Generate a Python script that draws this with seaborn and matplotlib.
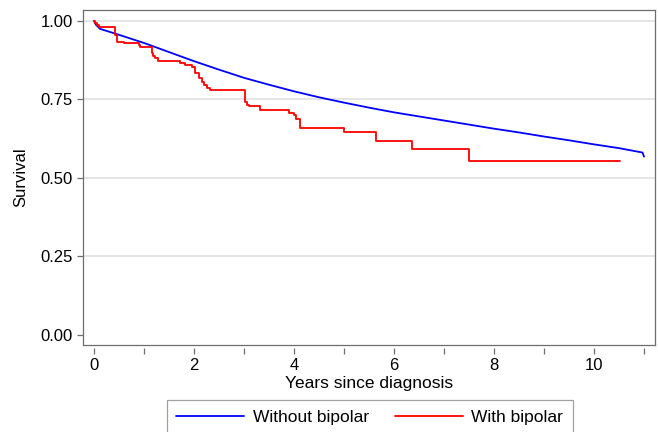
import pandas as pd
import matplotlib.pyplot as plt
import seaborn as sns

# survival curve without bipolar (smooth, many events)
without_years = [0, 0.04, 0.12, 0.5, 1, 1.5, 2, 2.5, 3, 3.5, 4, 4.5, 5, 5.5, 6, 6.5, 7,
                 7.5, 8, 8.5, 9, 9.5, 10, 10.5, 10.97, 11.0]
without_surv = [1.0, 0.988, 0.975, 0.956, 0.930, 0.901, 0.872, 0.845, 0.819, 0.797, 0.776,
                0.757, 0.740, 0.724, 0.709, 0.696, 0.683, 0.670, 0.657, 0.645, 0.632,
                0.620, 0.607, 0.595, 0.581, 0.568]

# Kaplan-Meier steps with bipolar
with_years = [0, 0.02, 0.05, 0.09, 0.41, 0.45, 0.59, 0.89, 0.92, 1.15, 1.18, 1.22, 1.28,
              1.72, 1.82, 1.95, 2.02, 2.09, 2.15, 2.20, 2.25, 2.32, 3.02, 3.05, 3.10,
              3.32, 3.89, 4.00, 4.03, 4.12, 4.99, 5.63, 6.35, 7.49, 10.52]
with_surv = [1.0, 0.995, 0.988, 0.980, 0.955, 0.934, 0.931, 0.925, 0.916, 0.899, 0.887,
             0.881, 0.874, 0.865, 0.860, 0.852, 0.833, 0.817, 0.807, 0.796, 0.786, 0.779,
             0.741, 0.733, 0.729, 0.717, 0.706, 0.699, 0.688, 0.658, 0.645, 0.619, 0.592,
             0.554, 0.554]

y_ticks = [0, 0.25, 0.5, 0.75, 1.0]
y_labels = ["0.00", "0.25", "0.50", "0.75", "1.00"]
x_ticks = list(range(12))
x_labels = [str(t) if t % 2 == 0 else "" for t in x_ticks]

sns.set_style("white")
plt.rcParams['font.family'] = ['Liberation Sans', 'DejaVu Sans']
plt.rcParams['text.color'] = 'black'
plt.rcParams['axes.labelcolor'] = 'black'
plt.rcParams['xtick.labelcolor'] = 'black'
plt.rcParams['ytick.labelcolor'] = 'black'

axis_gray = "#6e6e6e"

fig = plt.figure(figsize=(6.58, 4.32), dpi=100)
ax = fig.add_axes([83 / 658, 1 - 345 / 432, (655 - 83) / 658, (345 - 10) / 432])

for v in y_ticks[1:]:
    ax.axhline(v, color="#dedede", lw=1.1, zorder=0)

df_wo = pd.DataFrame({"years": without_years, "survival": without_surv})
df_w = pd.DataFrame({"years": with_years, "survival": with_surv})
sns.lineplot(data=df_wo, x="years", y="survival", color="#0000ff", lw=1.3,
             estimator=None, sort=False, label="Without bipolar", ax=ax)
sns.lineplot(data=df_w, x="years", y="survival", color="#ff0000", lw=1.3,
             estimator=None, sort=False, drawstyle="steps-post", label="With bipolar", ax=ax)

ax.set_xlim(-0.22, 11.22)
ax.set_ylim(-0.032, 1.035)
ax.set_yticks(y_ticks)
ax.set_yticklabels(y_labels, fontsize=12)
ax.set_ylabel("Survival", fontsize=12, labelpad=9)
ax.set_xlabel("")
ax.tick_params(axis="y", direction="out", length=4.3, width=0.9, color=axis_gray, pad=3, left=True)
ax.tick_params(axis="x", bottom=False, labelbottom=False)
for sp in ax.spines.values():
    sp.set_visible(True)
    sp.set_color(axis_gray)
    sp.set_linewidth(0.9)

# x axis drawn slightly below the plot box, Stata style
sec = ax.secondary_xaxis(-0.008)
sec.set_xticks(x_ticks)
sec.set_xticklabels(x_labels, fontsize=12)
sec.tick_params(direction="out", length=4.3, width=0.9, color=axis_gray, pad=3)
for sp in sec.spines.values():
    sp.set_visible(False)
sec.set_xlabel("Years since diagnosis", fontsize=12.5, labelpad=2)

handles, labels = ax.get_legend_handles_labels()
ax.get_legend().remove()
leg = fig.legend(handles, labels, loc="upper center", bbox_to_anchor=(0.562, 0.074), ncol=2,
                 frameon=True, fancybox=False, edgecolor="#8a8a8a", fontsize=12.5,
                 handlelength=3.9, columnspacing=1.5, handletextpad=0.5, borderpad=0.55,
                 borderaxespad=0)
leg.get_frame().set_linewidth(0.9)

fig.savefig("out.png", dpi=100)
